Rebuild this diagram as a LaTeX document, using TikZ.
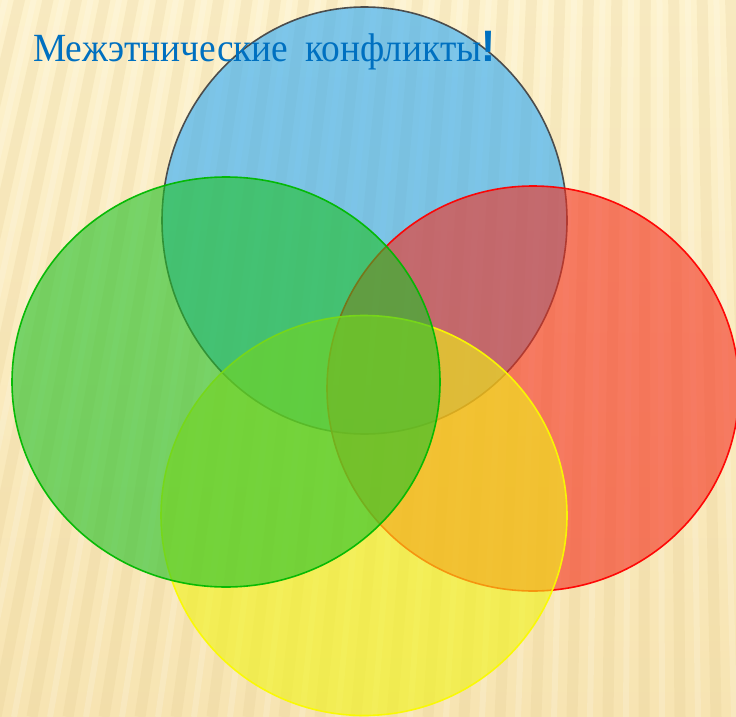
\documentclass[tikz,border=0pt]{standalone}
\usepackage{fontspec}
\setmainfont{Liberation Serif}
\newfontfamily\bangfont{Liberation Sans}
\definecolor{bgtop}{RGB}{253,242,205}
\definecolor{bgbot}{RGB}{247,228,178}
\definecolor{stripe}{RGB}{226,200,140}
\definecolor{cblue}{RGB}{40,168,250}
\definecolor{cred}{RGB}{244,46,30}
\definecolor{cgreen}{RGB}{32,193,39}
\definecolor{cyellow}{RGB}{240,243,22}
\definecolor{eblue}{RGB}{70,70,70}
\definecolor{ered}{RGB}{255,0,0}
\definecolor{egreen}{RGB}{0,185,0}
\definecolor{eyellow}{RGB}{250,250,0}
\definecolor{titleblue}{RGB}{0,112,192}
\tikzset{
  disc/.style={fill opacity=0.6, draw opacity=0.95, line width=1.6pt},
  titletext/.style={text=titleblue, font=\fontsize{40}{44}\selectfont, inner sep=0pt, anchor=base west}
}
\begin{document}
\begin{tikzpicture}[x=1pt,y=-1pt]
\useasboundingbox (0,0) rectangle (736,717);
% background
\shade[top color=bgtop, bottom color=bgbot] (0,0) rectangle (736,717);
\begin{scope}
  \clip (0,0) rectangle (736,717);
  \foreach \x in {-400,-364,...,900} {
    \draw[stripe, line width=11pt, opacity=0.2] (650,-2700) -- (\x,717);
    \draw[white, line width=6pt, opacity=0.16] (650,-2700) -- ({\x+18},717);
  }
\end{scope}
% discs
\path[disc, fill=cblue, draw=eblue] (364.5,220.5) ellipse [x radius=202.5pt, y radius=213.5pt];
\path[disc, fill=cred, draw=ered] (533,388.5) ellipse [x radius=206pt, y radius=202.5pt];
\path[disc, fill=cyellow, draw=eyellow] (364,515.5) ellipse [x radius=203pt, y radius=200pt];
\path[disc, fill=cgreen, draw=egreen] (226,382) ellipse [x radius=214pt, y radius=205pt];
% title
\node[titletext] (title) at (33,62) {\scalebox{0.935}[1]{Межэтнические}\hspace{17pt}\scalebox{0.935}[1]{конфликты}{\bangfont\bfseries\scalebox{1.05}[1.1]{!}}};
\end{tikzpicture}
\end{document}
